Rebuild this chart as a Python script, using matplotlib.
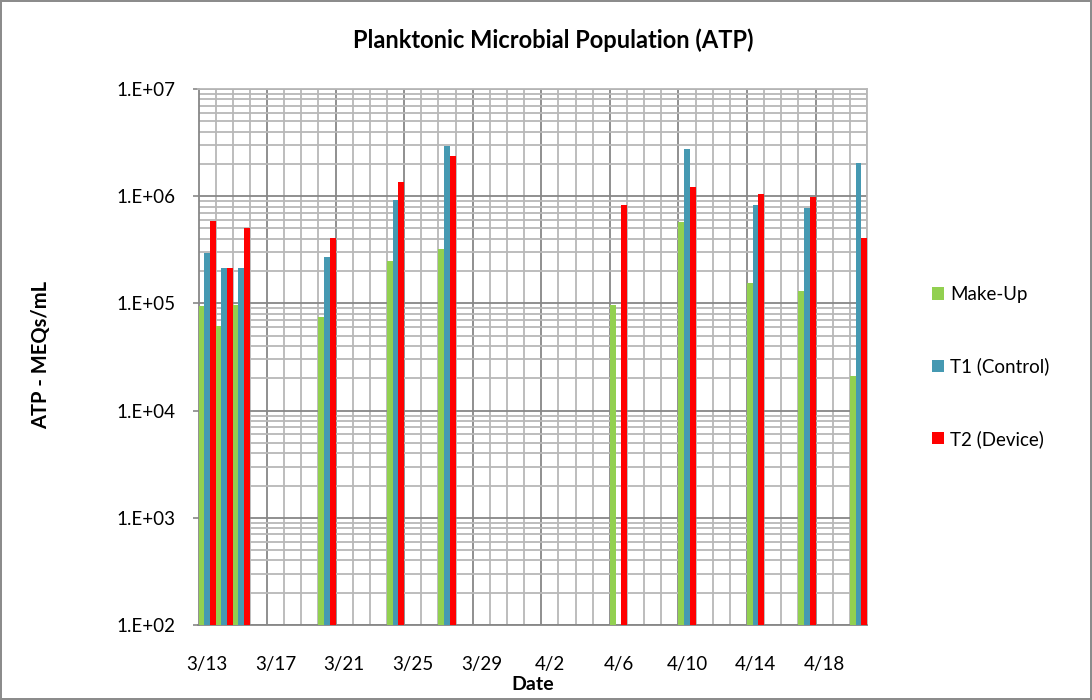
import numpy as np
import pandas as pd
import matplotlib
matplotlib.use("Agg")
import matplotlib.pyplot as plt
import matplotlib.dates as mdates
import matplotlib.ticker as mticker
from matplotlib.transforms import ScaledTranslation

plt.rcParams['font.family'] = ['Lato', 'DejaVu Sans']

# sample dates (year not shown on the chart)
dates = ['3/13', '3/14', '3/15', '3/20', '3/24', '3/27', '4/6', '4/10', '4/14', '4/17', '4/20']
makeup = [9.5e4, 6.1e4, 9.7e4, 7.5e4, 2.5e5, 3.25e5, 9.7e4, 5.8e5, 1.55e5, 1.3e5, 2.1e4]
t1_control = [2.95e5, 2.15e5, 2.12e5, 2.7e5, 9.3e5, 2.95e6, np.nan, 2.75e6, 8.2e5, 7.8e5, 2.03e6]
t2_device = [5.9e5, 2.15e5, 5.0e5, 4.1e5, 1.36e6, 2.35e6, 8.3e5, 1.21e6, 1.04e6, 9.8e5, 4.1e5]

series_names = ['Make-Up', 'T1 (Control)', 'T2 (Device)']
series_colors = ['#92D050', '#4599B2', '#FF0000']
tick_labels = ['3/13', '3/17', '3/21', '3/25', '3/29', '4/2', '4/6', '4/10', '4/14', '4/18']

year = '2013'
x = pd.to_datetime([d + '/' + year for d in dates], format='%m/%d/%Y')
ticks = pd.to_datetime([d + '/' + year for d in tick_labels], format='%m/%d/%Y')

fig = plt.figure(figsize=(10.92, 7.0), dpi=100)
fig.patch.set_edgecolor('#8c8c8c')
fig.patch.set_linewidth(1.5)
ax = fig.add_axes([198.5 / 1092, 1 - 625 / 700, (867 - 198.5) / 1092, (625 - 89) / 700])
ax.set_yscale('log')

bw = pd.Timedelta(hours=8)
for i, (vals, name, col) in enumerate(zip([makeup, t1_control, t2_device], series_names, series_colors)):
    ax.bar(x + i * bw, vals, width=1 / 3, align='edge', color=col, label=name, zorder=3)

ax.set_ylim(1e2, 1e7)
ax.set_xlim(ticks[0], ticks[0] + pd.Timedelta(days=39))

ax.yaxis.set_major_locator(mticker.LogLocator(base=10, numticks=10))
ax.yaxis.set_minor_locator(mticker.LogLocator(base=10, subs=np.arange(2, 10), numticks=20))
ax.yaxis.set_major_formatter(mticker.FuncFormatter(lambda v, p: '1.E+%02d' % round(np.log10(v))))
ax.yaxis.set_minor_formatter(mticker.NullFormatter())

ax.xaxis.set_major_locator(mticker.FixedLocator(mdates.date2num(ticks)))
ax.xaxis.set_major_formatter(mdates.DateFormatter('%-m/%-d'))
ax.xaxis.set_minor_locator(mdates.DayLocator())

ax.grid(which='major', color='#878787', linewidth=1.3, zorder=0)
ax.grid(which='minor', color='#b8b8b8', linewidth=1.3, zorder=0)
ax.set_axisbelow(True)

ax.tick_params(axis='x', which='both', length=0, pad=22, labelsize=13.5)
ax.tick_params(axis='y', which='major', length=4.5, width=1.2, color='#878787', pad=12, labelsize=13.5)
ax.tick_params(axis='y', which='minor', length=0)

# shift date labels to the middle of each day slot
half_day = ax.get_position().width * 10.92 / 39 / 2
for lab in ax.get_xticklabels():
    lab.set_transform(lab.get_transform() + ScaledTranslation(half_day, 0, fig.dpi_scale_trans))

for side in ['left', 'bottom']:
    ax.spines[side].set_color('#878787')
    ax.spines[side].set_linewidth(1.3)
for side in ['top', 'right']:
    ax.spines[side].set_color('#b8b8b8')
    ax.spines[side].set_linewidth(1.3)

fig.text(553 / 1092, 1 - 40 / 700, 'Planktonic Microbial Population (ATP)',
         ha='center', va='center', fontsize=17, fontweight='bold')
fig.text(533 / 1092, 1 - 685 / 700, 'Date', ha='center', va='center', fontsize=14, fontweight='bold')
fig.text(41 / 1092, 1 - 355 / 700, 'ATP - MEQs/mL', ha='center', va='center',
         rotation=90, fontsize=14.5, fontweight='bold')

ax.legend(loc='center left', bbox_to_anchor=(931.7 / 1092, 1 - 367 / 700), bbox_transform=fig.transFigure,
          frameon=False, fontsize=13.5, handlelength=0.64, handleheight=0.64, handletextpad=0.35,
          labelspacing=2.9, borderpad=0, borderaxespad=0)

fig.savefig('out.png', dpi=100, edgecolor=fig.get_edgecolor())
